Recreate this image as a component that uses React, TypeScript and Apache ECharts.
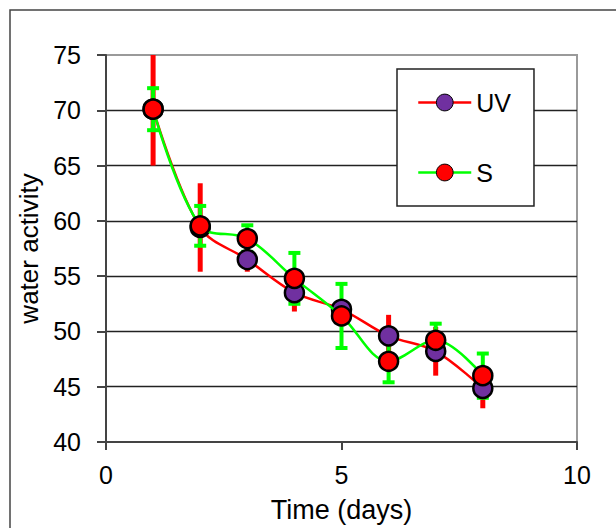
import React, { useEffect, useRef } from "react";
import * as echarts from "echarts";

// Sampling days and the mean water activity of each treatment, with its error
const days = [1, 2, 3, 4, 5, 6, 7, 8];
const uvMeans = [70.1, 59.4, 56.5, 53.5, 52.0, 49.6, 48.2, 44.85];
const uvErrors = [5.1, 4.0, 1.1, 1.7, 0.8, 1.9, 2.2, 1.8];
const sMeans = [70.1, 59.55, 58.4, 54.8, 51.4, 47.3, 49.2, 46.0];
const sErrors = [1.9, 1.8, 1.2, 2.3, 2.9, 1.9, 1.5, 2.0];

const yTicks = [40, 45, 50, 55, 60, 65, 70, 75];
const xTicks = [0, 5, 10];

const FONT = "'Liberation Sans', Arial, sans-serif";
const PURPLE = "#7030A0";
const RED = "#FF0000";
const GREEN = "#00FF00";

const errorRows = (means: number[], errs: number[]) =>
  days.map((d, i) => [d, means[i] - errs[i], means[i] + errs[i]]);

// Vertical error bar, optionally with end caps
const errorBar =
  (color: string, width: number, capHalf: number) =>
  (_params: any, api: any) => {
    const x = api.value(0);
    const lo = api.coord([x, api.value(1)]);
    const hi = api.coord([x, api.value(2)]);
    const children: any[] = [
      {
        type: "line",
        shape: { x1: hi[0], y1: hi[1], x2: lo[0], y2: lo[1] },
        style: { stroke: color, lineWidth: width },
      },
    ];
    if (capHalf > 0) {
      [hi, lo].forEach((p) =>
        children.push({
          type: "line",
          shape: { x1: p[0] - capHalf, y1: p[1], x2: p[0] + capHalf, y2: p[1] },
          style: { stroke: color, lineWidth: 4 },
        })
      );
    }
    return { type: "group", children };
  };

export default function App() {
  const ref = useRef<HTMLDivElement>(null);

  useEffect(() => {
    if (!ref.current) return;
    const chart = echarts.init(ref.current, null, { renderer: "svg" });
    chart.setOption({
      animation: false,
      backgroundColor: "#ffffff",
      textStyle: { fontFamily: FONT, color: "#000" },
      graphic: [
        {
          type: "rect",
          shape: { x: 10, y: 10, width: 700, height: 600 },
          style: { fill: "none", stroke: "#444", lineWidth: 1.5 },
          silent: true,
          z: 0,
        },
      ],
      grid: {
        left: 106,
        top: 55,
        width: 471,
        height: 392,
        show: true,
        borderColor: "#9a9a9a",
        borderWidth: 2,
      },
      legend: {
        data: ["UV", "S"],
        orient: "vertical",
        left: 397,
        top: 69,
        padding: [21, 23, 21, 20],
        itemGap: 45,
        itemWidth: 53,
        itemHeight: 21,
        borderColor: "#222",
        borderWidth: 1.5,
        backgroundColor: "#fff",
        textStyle: { fontSize: 25, fontFamily: FONT, color: "#000" },
        itemStyle: { borderWidth: 1, borderColor: "#000" },
        lineStyle: { width: 2.5 },
      },
      xAxis: {
        type: "value",
        min: xTicks[0],
        max: xTicks[xTicks.length - 1],
        interval: 5,
        name: "Time (days)",
        nameLocation: "middle",
        nameGap: 54,
        nameTextStyle: { fontSize: 27, fontFamily: FONT, color: "#000" },
        axisLine: { show: true, onZero: false, lineStyle: { color: "#444", width: 2 } },
        axisTick: { show: true, inside: false, length: 8, lineStyle: { color: "#444", width: 2 } },
        axisLabel: { fontSize: 25, fontFamily: FONT, color: "#000", margin: 20 },
        splitLine: { show: false },
      },
      yAxis: {
        type: "value",
        min: yTicks[0],
        max: yTicks[yTicks.length - 1],
        interval: 5,
        name: "water activity",
        nameLocation: "middle",
        nameGap: 64,
        nameTextStyle: { fontSize: 26, fontFamily: FONT, color: "#000" },
        axisLine: { show: true, onZero: false, lineStyle: { color: "#444", width: 2 } },
        axisTick: { show: true, inside: false, length: 9, lineStyle: { color: "#444", width: 2 } },
        axisLabel: { fontSize: 25, fontFamily: FONT, color: "#000", margin: 25 },
        splitLine: {
          show: true,
          showMinLine: false,
          showMaxLine: false,
          lineStyle: { color: "#222", width: 1.3 },
        },
      },
      series: [
        {
          name: "UV error",
          type: "custom",
          renderItem: errorBar(RED, 5, 0),
          data: errorRows(uvMeans, uvErrors),
          encode: { x: 0, y: [1, 2] },
          clip: true,
          z: 1,
          silent: true,
        },
        {
          name: "S error",
          type: "custom",
          renderItem: errorBar(GREEN, 4, 6),
          data: errorRows(sMeans, sErrors),
          encode: { x: 0, y: [1, 2] },
          clip: true,
          z: 2,
          silent: true,
        },
        {
          name: "UV",
          type: "line",
          data: days.map((d, i) => [d, uvMeans[i]]),
          smooth: 0.35,
          symbol: "circle",
          symbolSize: 19,
          lineStyle: { color: RED, width: 2.5 },
          itemStyle: { color: PURPLE, borderColor: "#000", borderWidth: 2.5 },
          z: 3,
        },
        {
          name: "S",
          type: "line",
          data: days.map((d, i) => [d, sMeans[i]]),
          smooth: 0.35,
          symbol: "circle",
          symbolSize: 19,
          lineStyle: { color: GREEN, width: 2.5 },
          itemStyle: { color: RED, borderColor: "#000", borderWidth: 2.5 },
          z: 4,
        },
      ],
    });
    return () => chart.dispose();
  }, []);

  return (
    <div
      ref={ref}
      style={{ position: "fixed", left: 0, top: 0, width: 616, height: 528 }}
    />
  );
}
